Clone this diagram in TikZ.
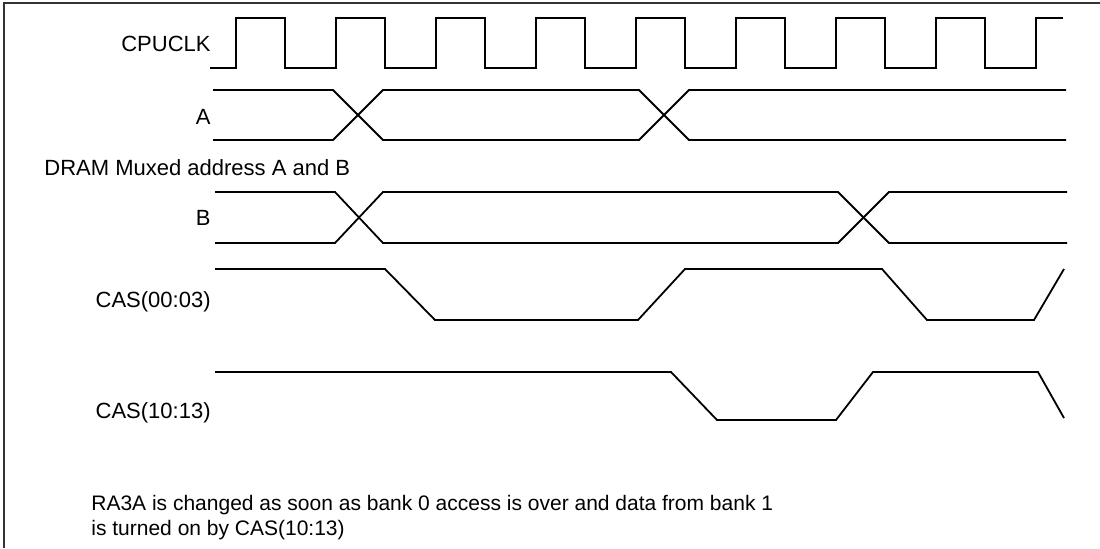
\documentclass[tikz,border=0pt]{standalone}
\usepackage{fontspec}
\setmainfont{Liberation Sans}
\usetikzlibrary{positioning}

\begin{document}
\begin{tikzpicture}[
    x=0.5pt, y=-0.5pt,
    sig/.style={line width=0.9pt, line join=miter},
    frame/.style={line width=0.8pt, draw=black!80},
    lbl/.style={inner sep=0pt, font=\fontsize{11}{13}\selectfont},
    note/.style={inner sep=0pt, font=\fontsize{10.5}{12.5}\selectfont},
]
\useasboundingbox (0,0) rectangle (1100,548);

% Frame
\draw[frame] (4,548) -- (4,3) -- (1100,3);

% Clock
\node[lbl, anchor=east] (clk) at (211,44) {CPUCLK};
\draw[sig] (210,68) \foreach \k in {0,...,7} {
    -- ({236+100*\k},68) -- ({236+100*\k},18) -- ({285+100*\k},18) -- ({285+100*\k},68) }
    -- (1036,68) -- (1036,18) -- (1063,18);

% Address A
\node[lbl, anchor=east] (addrA) at (211,117) {A};
\draw[sig] (213,90) -- (333,90) -- (383,140) -- (639,140) -- (689,90) -- (1066,90);
\draw[sig] (213,140) -- (333,140) -- (383,90) -- (639,90) -- (689,140) -- (1066,140);

\node[lbl, anchor=base west] (mux) at (44,175) {DRAM Muxed address A and B};

% Address B
\node[lbl, anchor=east] (addrB) at (211,218) {B};
\draw[sig] (215,192) -- (335,192) -- (383,243) -- (838,243) -- (889,192) -- (1067,192);
\draw[sig] (215,243) -- (335,243) -- (383,192) -- (838,192) -- (889,243) -- (1067,243);

% CAS bank 0
\node[lbl, anchor=base east] (cas0) at (211,307) {CAS(00:03)};
\draw[sig] (215,269) -- (385,269) -- (435,320) -- (638,320) -- (685,269) -- (882,269)
    -- (927,320) -- (1034,320) -- (1064,269);

% CAS bank 1
\node[lbl, anchor=base east] (cas1) at (211,418) {CAS(10:13)};
\draw[sig] (215,372) -- (671,372) -- (717,420) -- (836,420) -- (873,372) -- (1038,372)
    -- (1064,418);

% Note
\node[note, anchor=base west] (note1) at (91,510) {RA3A is changed as soon as bank 0 access is over and data from bank 1};
\node[note, anchor=base west] (note2) at (91,535) {is turned on by CAS(10:13)};

\end{tikzpicture}
\end{document}
